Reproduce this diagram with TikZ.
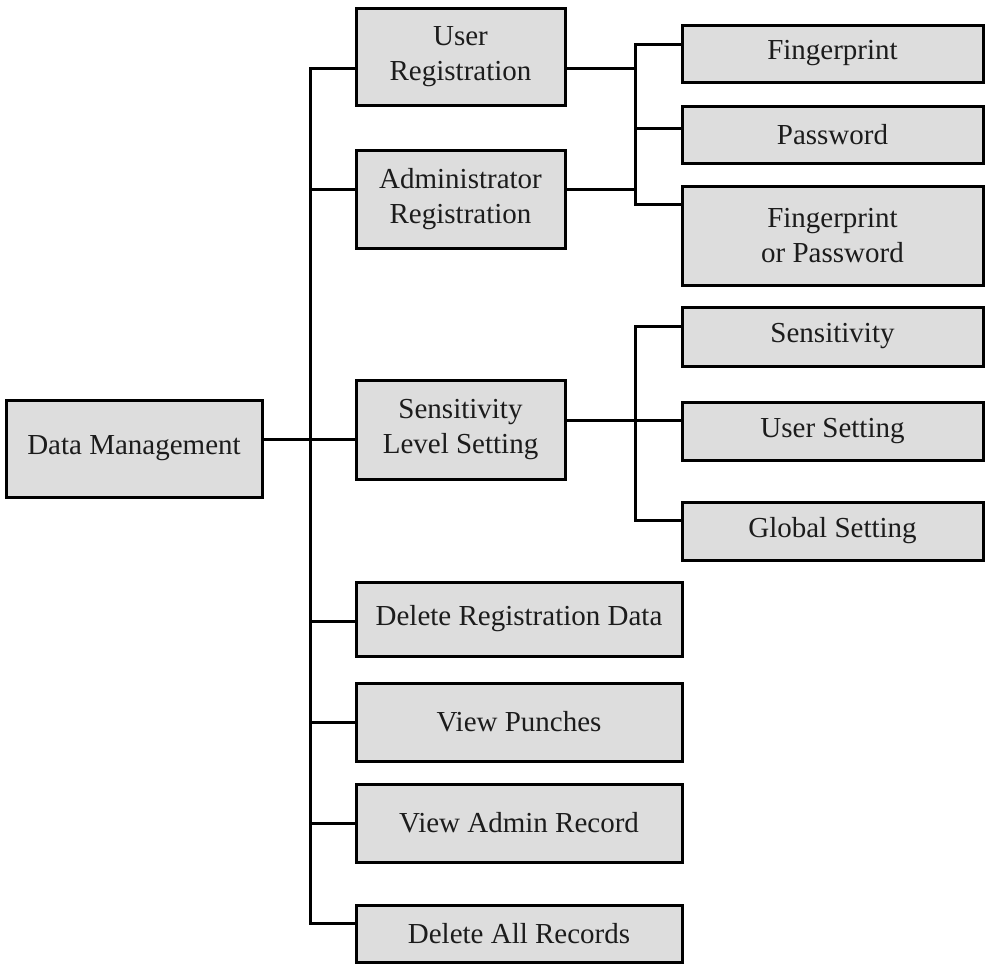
\documentclass[tikz,border=0pt]{standalone}
\usepackage{fontspec}
\setmainfont{Liberation Serif}
\begin{document}
\begin{tikzpicture}[x=1pt,y=-1pt,
  box/.style={draw=black, line width=3pt, fill=boxgray, rectangle, inner sep=0pt,
    align=center, text=textgray, font=\fontsize{29}{35}\selectfont},
  conn/.style={draw=black, line width=3pt, line join=miter}]
\definecolor{boxgray}{HTML}{DDDDDD}
\definecolor{textgray}{HTML}{1C1C1C}
\useasboundingbox (0,0) rectangle (990,964);
% boxes (centre, size in px)
\node[box, minimum width=256pt, minimum height=97pt] (dm) at (134,448.5) {Data Management};
\node[box, minimum width=209pt, minimum height=97pt] (ur) at (460.5,56.5) {User\\Registration};
\node[box, minimum width=209pt, minimum height=98pt] (ar) at (460.5,199) {Administrator\\Registration};
\node[box, minimum width=209pt, minimum height=99pt] (sls) at (460.5,429.5) {Sensitivity\\Level Setting};
\node[box, minimum width=326pt, minimum height=74pt] (drd) at (519,619) {Delete Registration Data};
\node[box, minimum width=326pt, minimum height=78pt] (vp) at (519,722) {View Punches};
\node[box, minimum width=326pt, minimum height=78pt] (var) at (519,823) {View Admin Record};
\node[box, minimum width=326pt, minimum height=57pt] (dar) at (519,933.5) {Delete All Records};
\node[box, minimum width=301pt, minimum height=57pt] (fp) at (832.5,53.5) {Fingerprint};
\node[box, minimum width=301pt, minimum height=57pt] (pw) at (832.5,134.5) {Password};
\node[box, minimum width=301pt, minimum height=99pt] (fop) at (832.5,235.5) {Fingerprint\\or Password};
\node[box, minimum width=301pt, minimum height=59pt] (se) at (832.5,336.5) {Sensitivity};
\node[box, minimum width=301pt, minimum height=58pt] (us) at (832.5,431) {User Setting};
\node[box, minimum width=301pt, minimum height=58pt] (gs) at (832.5,531) {Global Setting};
% junction coordinates
\coordinate (tTop) at (310,68);
\coordinate (tAr) at (310,189);
\coordinate (tDm) at (310,439);
\coordinate (tDrd) at (310,621);
\coordinate (tVp) at (310,722);
\coordinate (tVar) at (310,823);
\coordinate (tBot) at (310,923);
\coordinate (aTop) at (635,44);
\coordinate (aUr) at (635,68);
\coordinate (aPw) at (635,128);
\coordinate (aAr) at (635,189);
\coordinate (aBot) at (635,204);
\coordinate (bTop) at (635,326);
\coordinate (bMid) at (635,420);
\coordinate (bBot) at (635,520);
% main trunk
\draw[conn] (ur.west |- tTop) -- (tTop) -- (tBot) -- (dar.west |- tBot);
\draw[conn] (tAr) -- (ar.west |- tAr);
\draw[conn] (dm.east |- tDm) -- (sls.west |- tDm);
\draw[conn] (tDrd) -- (drd.west |- tDrd);
\draw[conn] (tVp) -- (vp.west |- tVp);
\draw[conn] (tVar) -- (var.west |- tVar);
% registration sub-trunk
\draw[conn] (fp.west |- aTop) -- (aTop) -- (aBot) -- (fop.west |- aBot);
\draw[conn] (ur.east |- aUr) -- (aUr);
\draw[conn] (ar.east |- aAr) -- (aAr);
\draw[conn] (aPw) -- (pw.west |- aPw);
% sensitivity sub-trunk
\draw[conn] (se.west |- bTop) -- (bTop) -- (bBot) -- (gs.west |- bBot);
\draw[conn] (sls.east |- bMid) -- (us.west |- bMid);
\end{tikzpicture}
\end{document}
